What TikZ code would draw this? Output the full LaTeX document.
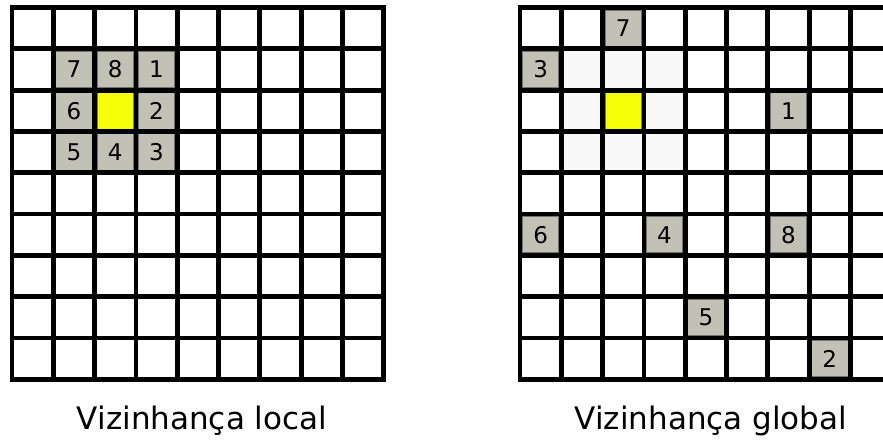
\documentclass[tikz,border=0pt]{standalone}
\usepackage{fontspec}
\setmainfont{DejaVu Sans}
\definecolor{cellgray}{RGB}{193,193,181}
\definecolor{cellfaint}{RGB}{249,249,249}
\definecolor{cellyellow}{RGB}{244,255,8}

\begin{document}
\begin{tikzpicture}[
    x=1pt,
    y=-1pt,
    gridline/.style={line width=4.8pt,line cap=rect},
    nbcell/.style={fill=cellgray,draw=black!55,line width=0.8pt},
    faintcell/.style={fill=cellfaint},
    centercell/.style={fill=cellyellow,draw=black!55,line width=0.8pt},
    digit/.style={font=\fontsize{23}{23}\selectfont},
    caption/.style={font=\fontsize{31}{31}\selectfont,anchor=base}
]
  \useasboundingbox (0,0) rectangle (883,444);

  % local neighbourhood
  \begin{scope}[shift={(12,7.5)},x=41.3pt,y=-41.3pt]
    \draw[centercell] (2.06,2.06) rectangle (2.94,2.94);
    \foreach \c/\r/\n in {1/1/7,2/1/8,3/1/1,1/2/6,3/2/2,1/3/5,2/3/4,3/3/3} {
      \draw[nbcell] (\c+.06,\r+.06) rectangle (\c+.94,\r+.94);
      \node[digit] (loc\n) at (\c+.5,\r+.5) {\n};
    }
    \foreach \i in {0,...,9} {
      \draw[gridline] (\i,0) -- (\i,9);
      \draw[gridline] (0,\i) -- (9,\i);
    }
  \end{scope}

  % global neighbourhood
  \begin{scope}[shift={(520,7.5)},x=41.3pt,y=-41.3pt]
    \foreach \c/\r in {1/1,2/1,3/1,1/2,3/2,1/3,2/3,3/3}
      \fill[faintcell] (\c,\r) rectangle (\c+1,\r+1);
    \draw[centercell] (2.06,2.06) rectangle (2.94,2.94);
    \foreach \c/\r/\n in {2/0/7,0/1/3,6/2/1,0/5/6,3/5/4,6/5/8,4/7/5,7/8/2} {
      \draw[nbcell] (\c+.06,\r+.06) rectangle (\c+.94,\r+.94);
      \node[digit] (glob\n) at (\c+.5,\r+.5) {\n};
    }
    \foreach \i in {0,...,9} {
      \draw[gridline] (\i,0) -- (\i,9);
      \draw[gridline] (0,\i) -- (9,\i);
    }
  \end{scope}

  \node[caption] (localtitle) at (202,429) {Vizinhança local};
  \node[caption] (globaltitle) at (711,429) {Vizinhança global};
\end{tikzpicture}
\end{document}
